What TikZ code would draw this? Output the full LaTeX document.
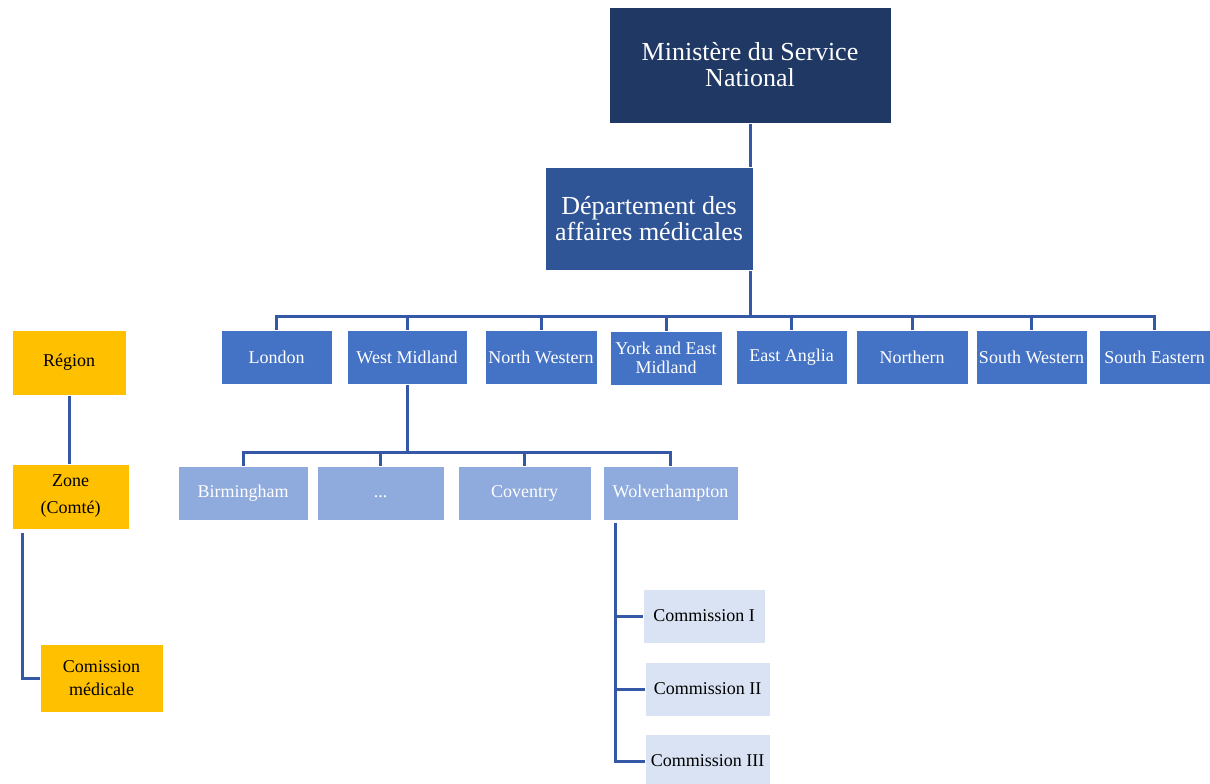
\documentclass[tikz,border=0pt]{standalone}
\usepackage{fontspec}
\setmainfont{Liberation Serif}
\usepackage{tikz}
\usetikzlibrary{backgrounds}
\definecolor{ttqqmm}{RGB}{32,56,100}
\definecolor{mmttzz}{RGB}{47,85,151}
\definecolor{qqttcc}{RGB}{68,114,196}
\definecolor{zzaadd}{RGB}{143,170,220}
\definecolor{ddeeff}{RGB}{218,227,243}
\definecolor{ffccqq}{RGB}{255,192,0}
\definecolor{linkblue}{RGB}{52,88,165}

\begin{document}
\begin{tikzpicture}[x=1pt,y=-1pt,line join=miter,
  box/.style={draw=white,line width=0.6pt,inner sep=0pt,align=center,font=\fontsize{18}{19}\selectfont},
  topbox/.style={box,fill=ttqqmm,text=white,font=\fontsize{26}{26}\selectfont},
  deptbox/.style={box,fill=mmttzz,text=white,font=\fontsize{26}{26}\selectfont},
  regbox/.style={box,fill=qqttcc,text=white,minimum height=54pt},
  distbox/.style={box,fill=zzaadd,text=white,minimum height=54pt},
  combox/.style={box,fill=ddeeff,text=black,minimum height=54pt},
  legbox/.style={box,fill=ffccqq,text=black},
  conn/.style={draw=linkblue,line width=3pt}]
  \useasboundingbox (0,0) rectangle (1210,784);

  % top of the tree
  \node[topbox,minimum width=282pt,minimum height=116pt] (min) at (750,65) {Ministère du Service\\National};
  \node[deptbox,minimum width=208pt,minimum height=103pt] (dept) at (649,218.5) {Département des\\affaires médicales};

  % regions
  \node[regbox,minimum width=111pt] (lon) at (276.5,357) {London};
  \node[regbox,minimum width=120pt] (wmid) at (407,357) {West Midland};
  \node[regbox,minimum width=112pt] (nwest) at (541,357) {North Western};
  \node[regbox,minimum width=112pt] (york) at (666,358) {York and East\\Midland};
  \node[regbox,minimum width=111pt] (eang) at (791.5,357) {East Anglia};
  \node[regbox,minimum width=112pt] (north) at (912,357) {Northern};
  \node[regbox,minimum width=111pt] (swest) at (1031.5,357) {South Western};
  \node[regbox,minimum width=111pt] (seast) at (1154.5,357) {South Eastern};

  % zones of West Midland
  \node[distbox,minimum width=130pt] (birm) at (243,493) {Birmingham};
  \node[distbox,minimum width=127pt] (dots) at (380.5,493) {\vphantom{Ag}...};
  \node[distbox,minimum width=133pt] (cov) at (524.5,493) {Coventry};
  \node[distbox,minimum width=135pt] (wolv) at (670.5,493) {Wolverhampton};

  % commissions
  \node[combox,minimum width=122pt] (comI) at (704,616) {Commission I};
  \node[combox,minimum width=125pt] (comII) at (707.5,689) {Commission II};
  \node[combox,minimum width=125pt] (comIII) at (707.5,761) {Commission III};

  % legend
  \node[legbox,minimum width=114pt,minimum height=65pt] (reg) at (69,362.5) {Région};
  \node[legbox,minimum width=117pt,minimum height=65pt,font=\fontsize{18}{27}\selectfont] (zone) at (70.5,496.5) {Zone\\(Comté)};
  \node[legbox,minimum width=123pt,minimum height=68pt,font=\fontsize{18}{23}\selectfont] (comm) at (101.5,678) {Comission\\médicale};

  \coordinate (rbus) at (750,316);
  \coordinate (dbus) at (407,452);
  \coordinate (wtop) at (615,523);
  \coordinate (ztop) at (22,533);

  \begin{scope}[on background layer]
    \draw[conn] ([yshift=4pt]min.south) -- (rbus);
    \foreach \r in {lon,wmid,nwest,york,eang,north,swest,seast}
      \draw[conn] (rbus) -| ([yshift=-2pt]\r.north);
    \draw[conn] (wmid.south) -- (dbus);
    \foreach \d in {birm,dots,cov,wolv}
      \draw[conn] (dbus) -| ([yshift=-2pt]\d.north);
    \foreach \c in {comI,comII,comIII}
      \draw[conn] (wtop) |- (\c.west);
    \draw[conn] (reg.south) -- (reg.south |- zone.north);
    \draw[conn] (ztop) |- (comm.west);
  \end{scope}
\end{tikzpicture}
\end{document}
